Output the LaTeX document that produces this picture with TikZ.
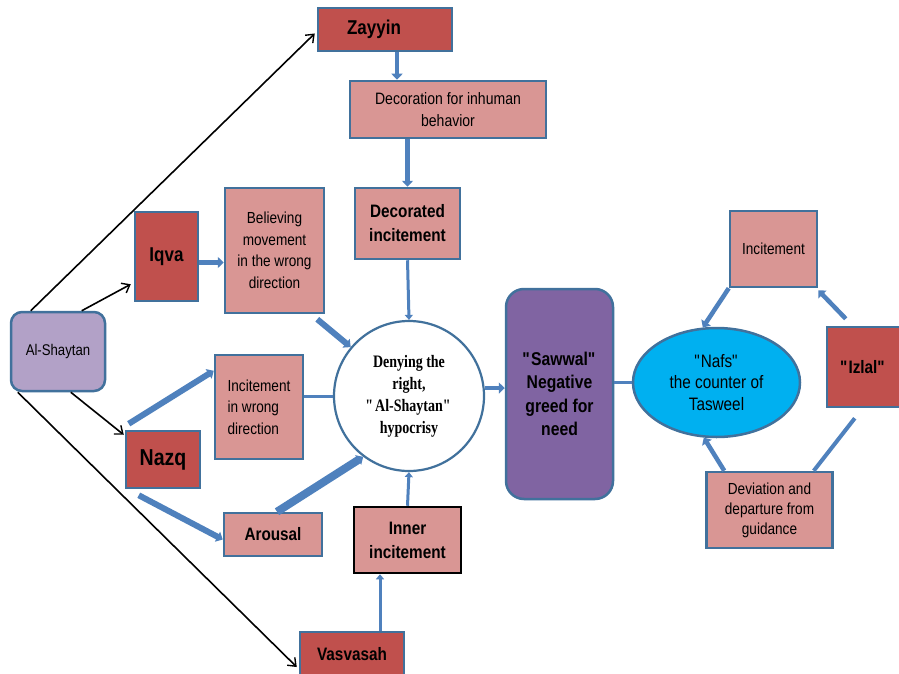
\documentclass[tikz,border=0pt]{standalone}
\usepackage{fontspec}
\setmainfont{Liberation Sans}[FakeStretch=0.85]
\newfontfamily\circfont{Liberation Serif}[FakeStretch=0.8]
\usetikzlibrary{arrows.meta,shapes.geometric,calc}
\definecolor{darkred}{HTML}{C0504D}
\definecolor{lightred}{HTML}{D99694}
\definecolor{bordblue}{HTML}{41719C}
\definecolor{arrblue}{HTML}{4F81BD}
\definecolor{lav}{HTML}{B2A1C7}
\definecolor{purp}{HTML}{8064A2}
\definecolor{cyanb}{HTML}{00B0F0}
\newcommand\myfs[2]{\fontsize{#1}{#2}\selectfont}
\newcommand\sq{\XeTeXglyph\XeTeXcharglyph"22\relax}
\tikzset{
  base/.style={draw=bordblue, line width=2.5pt, inner sep=2pt, align=center, text=black},
  dbox/.style={base, fill=darkred},
  lbox/.style={base, fill=lightred},
  blk/.style={draw=black, line width=1.6pt, -{Straight Barb[length=7pt,width=11pt,line width=1.4pt]}},
  barr/.style={draw=arrblue, line width=4.5pt, -{Triangle[length=6pt,width=11pt]}},
  bthin/.style={draw=arrblue, line width=3pt, -{Triangle[length=5pt,width=8pt]}},
  bline/.style={draw=arrblue, line width=3pt},
}
\begin{document}
\begin{tikzpicture}[x=1pt,y=-1pt]
\useasboundingbox[fill=white] (0,0) rectangle (899,674);

% nodes
\node[dbox, minimum width=134pt, minimum height=43pt, font=\myfs{20}{24}\bfseries] (zay) at (385,29.5) {\hspace*{-22pt}Zayyin};
\node[lbox, minimum width=196pt, minimum height=57pt, font=\myfs{16.5}{22}] (deco) at (448,109.5) {Decoration for inhuman\\behavior};
\node[lbox, minimum width=105pt, minimum height=71pt, font=\myfs{18}{24}\bfseries] (dinc) at (407.5,223.5) {Decorated\\incitement};
\node[dbox, minimum width=63pt, minimum height=89pt, font=\myfs{20}{24}\bfseries] (iqva) at (166.5,256.5) {Iqva};
\node[lbox, minimum width=99pt, minimum height=125pt, font=\myfs{16}{21.5}] (beli) at (274.5,250.5) {Believing\\movement\\in the wrong\\direction};
\node[base, fill=lav, rounded corners=11pt, minimum width=94pt, minimum height=79pt, font=\myfs{15.5}{20}] (shay) at (58,351.5) {Al-Shaytan};
\node[circle, draw=bordblue, line width=2.2pt, fill=white, minimum size=150pt, inner sep=0pt, align=center, font=\circfont\myfs{17.5}{22}\bfseries] (circ) at (409,396) {Denying the\\right,\\\sq Al-Shaytan\sq\\hypocrisy};
\node[lbox, minimum width=88pt, minimum height=104pt, align=left, font=\myfs{16}{21.5}] (iwd) at (259,407) {Incitement\\in wrong\\direction};
\node[dbox, minimum width=74pt, minimum height=57pt, font=\myfs{23}{26}\bfseries] (nazq) at (163,459.5) {Nazq};
\node[lbox, minimum width=98pt, minimum height=43pt, font=\myfs{18}{22}\bfseries] (arou) at (273,534.5) {Arousal};
\node[base, draw=black, fill=lightred, minimum width=107pt, minimum height=66pt, font=\myfs{18}{24}\bfseries] (inner) at (407.5,540) {Inner\\incitement};
\node[dbox, minimum width=104pt, minimum height=44pt, font=\myfs{18}{22}\bfseries] (vasv) at (352,654) {Vasvasah};
\node[base, fill=purp, rounded corners=18pt, minimum width=107pt, minimum height=210pt, font=\myfs{18.5}{23.5}\bfseries] (saww) at (559.5,394) {\sq Sawwal\sq\\Negative\\greed for\\need};
\node[ellipse, draw=bordblue, line width=2.5pt, fill=cyanb, minimum width=167pt, minimum height=109pt, inner sep=0pt, align=center, font=\myfs{18}{21.5}] (nafs) at (716.5,382.5) {\sq Nafs\sq\\the counter of\\Tasweel};
\node[lbox, minimum width=87pt, minimum height=76pt, font=\myfs{16}{20}] (rinc) at (773.5,249) {Incitement};
\node[dbox, minimum width=78pt, minimum height=80pt, font=\myfs{18}{22}\bfseries] (izl) at (866,367) {\hspace*{-6pt}\sq Izlal\sq};
\node[lbox, minimum width=126pt, minimum height=76pt, font=\myfs{16}{20}] (devi) at (769.5,510) {Deviation and\\departure from\\guidance};

% black arrows from Al-Shaytan
\draw[blk] ([xshift=21pt]shay.north west) -- ([yshift=-4pt,xshift=-2pt]zay.west);
\draw[blk] ([xshift=72pt]shay.north west) -- ([yshift=18pt,xshift=-3pt]iqva.south west);
\draw[blk] ([xshift=61pt]shay.south west) -- ([yshift=-5pt,xshift=-1pt]nazq.north west);
\draw[blk] ([xshift=8pt]shay.south west) -- ([yshift=-13pt,xshift=-2pt]vasv.west);

% blue arrows
\coordinate (zs) at ([xshift=12pt]zay.south);
\draw[barr] (zs) -- (zs |- deco.north);
\draw[barr] (dinc.north |- deco.south) -- (dinc.north);
\draw[bthin] (dinc.south) -- (circ.north);
\coordinate (is) at ([yshift=-6pt]iqva.east);
\draw[barr] (is) -- (is -| beli.west);
\draw[barr, line width=6pt] ([xshift=-8pt,yshift=-5pt]beli.south east) -- (circ.140);
\draw[barr, line width=6pt] ([xshift=4pt,yshift=6pt]nazq.north west) -- ([yshift=-17pt]iwd.north west);
\draw[bline] (iwd.east |- circ.west) -- (circ.west);
\draw[barr, line width=6pt] ([xshift=14pt,yshift=-6pt]nazq.south west) -- ([yshift=-5pt]arou.west);
\draw[barr, line width=8pt] ([xshift=4pt]arou.north) -- (circ.233);
\draw[bthin] (inner.north) -- (circ.south);
\coordinate (vs) at ([xshift=28pt]vasv.north);
\draw[bthin] (vs) -- (vs |- inner.south);
\draw[barr] (circ.6) -- (circ.6 -| saww.west);
\draw[bline] (saww.east |- nafs.west) -- (nafs.west);
\draw[barr] (rinc.south west) -- (nafs.104);
\draw[barr] ([xshift=20pt,yshift=7pt]izl.north west) -- ([yshift=-2pt]rinc.south east);
\draw[bline, line width=4pt] ([xshift=29pt,yshift=-10pt]izl.south west) -- ([xshift=-20pt]devi.north east);
\draw[barr] ([xshift=19pt]devi.north west) -- (nafs.257);
\end{tikzpicture}
\end{document}
